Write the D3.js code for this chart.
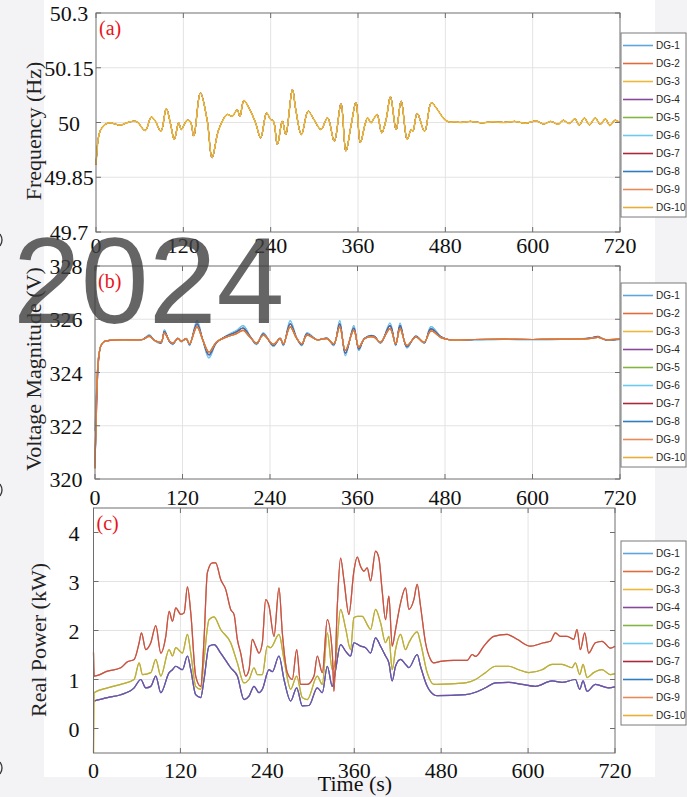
<!DOCTYPE html>
<html><head><meta charset="utf-8">
<script src="https://cdn.jsdelivr.net/npm/d3@7"></script>
<style>html,body{margin:0;padding:0;background:#fff;}svg{display:block;}</style>
</head><body>
<svg id="chart" width="687" height="797"></svg>
<script>
// ---------------- DATA ----------------
const dgNames = ["DG-1","DG-2","DG-3","DG-4","DG-5","DG-6","DG-7","DG-8","DG-9","DG-10"];
const dgColors = ["#5ea6da","#df6c3a","#edb73a","#87479a","#84b443","#6ccaf0","#a8283c","#2f7dbf","#e88a5c","#e9ad3a"];
const timeTicks = [0,120,240,360,480,600,720];
const freqTicks = [49.7,49.85,50,50.15,50.3];
const freqTickLabels = ["49.7","49.85","50","50.15","50.3"];
const voltTicks = [320,322,324,326,328];
const powerTicks = [0,1,2,3,4];

// frequency (Hz): [time s, value] – all DGs share it
const frequency = [[0,49.885],[1.5,49.925],[3,49.955],[6,49.978],[10,49.99],[12.4,49.9945],[19.3,49.999],[33.1,49.993],[46.9,50.002],[56.1,50.002],[67.6,49.978],[75.9,50.015],[81.4,50.004],[89.2,49.976],[96.6,50.038],[102.1,49.999],[107.6,49.954],[113.6,49.999],[117.2,49.981],[125.1,50.006],[129.7,50.002],[134.3,49.963],[143.4,50.081],[152.6,50.008],[159.5,49.904],[168.7,49.981],[180.2,50.022],[187.1,50.017],[194.0,50.035],[197.7,50.017],[203.2,50.06],[210.1,50.04],[219.3,49.999],[226.2,49.958],[234.5,50.026],[240.0,50.008],[243.7,50.004],[249.2,49.94],[256.1,50.004],[260.7,49.967],[269.9,50.09],[274.5,50.035],[282.3,49.967],[291.5,50.031],[298.9,50.01],[309.0,49.981],[318.2,50.013],[327.4,49.949],[336.6,50.051],[343.4,49.922],[350.3,49.99],[357.2,50.055],[363.2,49.945],[369.7,49.995],[373.3,50.013],[377.9,49.999],[382.5,50.013],[386.2,50.022],[392.6,49.972],[398.6,50.008],[404.6,50.07],[412.4,49.981],[419.3,50.058],[427.6,49.954],[433.1,49.981],[435.4,49.976],[441.4,50.025],[451.5,49.976],[460.7,50.054],[467.6,50.04],[479.1,50.008],[486.0,50.001],[492.9,50.002],[500,50.0],[515,50.003],[530,49.999],[545,50.002],[560,50.0],[575,50.003],[590,49.998],[605,50.004],[615,49.996],[625,50.003],[635,49.995],[642,50.006],[650,49.997],[658,50.01],[664,49.993],[671,50.012],[678,49.994],[686,50.012],[693,49.995],[700,50.01],[706,49.992],[713,50.006],[720,50.0]];

// voltage magnitude (V)
const voltTime = [0,1.5,3,5,8,12,18,37.7,65.3,74.5,81.4,90.6,95.2,102.1,106.7,113.6,118.2,125.1,129.7,139.8,148,156.3,166.4,180.2,194,203.2,212.4,221.6,230.8,244.6,253.8,258.4,267.6,276.8,283.7,290.6,304.4,318.2,327.4,335.6,343.4,354.9,361.8,369.7,382.5,391.7,404.6,412.4,418.4,427.6,440,451.5,460.7,474.5,486,520,560,600,640,660,680,690,700,720];
const voltMain = [320.4,322.5,323.8,324.6,325.0,325.15,325.2,325.23,325.24,325.36,325.21,325.14,325.48,325.18,325.11,325.27,325.18,325.26,325.08,325.71,325.21,324.77,325.14,325.33,325.46,325.58,325.33,325.11,325.40,325.06,325.27,325.08,325.71,325.27,325.08,325.40,325.23,325.27,325.08,325.71,324.83,325.58,324.96,325.27,325.33,325.14,325.65,325.08,325.65,325.02,325.33,325.14,325.56,325.31,325.23,325.24,325.25,325.24,325.25,325.26,325.28,325.32,325.24,325.25];
const voltDark = [320.6,322.0,323.5,324.5,325.0,325.15,325.2,325.23,325.24,325.38,325.21,325.12,325.54,325.17,325.08,325.28,325.17,325.27,325.05,325.83,325.21,324.66,325.12,325.36,325.52,325.67,325.36,325.08,325.44,325.02,325.28,325.05,325.83,325.28,325.05,325.44,325.23,325.28,325.05,325.83,324.73,325.67,324.89,325.28,325.36,325.12,325.76,325.05,325.76,324.97,325.36,325.12,325.64,325.33,325.23,325.24,325.25,325.24,325.25,325.26,325.29,325.34,325.23,325.25];
const voltCyan = [321.8,322.9,323.9,324.6,325.0,325.15,325.2,325.23,325.24,325.41,325.2,325.1,325.6,325.15,325.05,325.29,325.15,325.28,325.01,325.95,325.2,324.55,325.1,325.38,325.58,325.76,325.38,325.05,325.49,324.98,325.29,325.01,325.95,325.29,325.01,325.49,325.23,325.29,325.01,325.95,324.63,325.76,324.83,325.29,325.38,325.1,325.86,325.01,325.86,324.92,325.38,325.1,325.72,325.35,325.22,325.22,325.24,325.23,325.24,325.26,325.3,325.36,325.22,325.24];

// real power (kW): [time s, value]
const powerHigh = [[0,1.55],[0.9,1.07],[19.3,1.17],[37.7,1.24],[46.9,1.36],[56.1,1.41],[63.0,1.75],[66.2,1.95],[72.2,1.61],[79.1,1.75],[86.0,2.10],[92.9,1.54],[99.8,1.88],[104.4,2.39],[109.0,2.19],[113.6,2.46],[120.5,2.33],[125.1,2.36],[129.7,2.89],[134.3,2.36],[141.1,1.07],[148.0,0.86],[152.6,1.82],[157.2,3.18],[164.1,3.38],[168.7,3.38],[175.6,3.04],[182.5,2.84],[189.4,2.43],[194.0,2.33],[198.6,1.82],[203.2,1.54],[210.1,1.07],[214.7,1.20],[219.3,1.82],[223.9,1.68],[228.5,1.54],[233.1,1.75],[237.7,2.63],[242.3,2.50],[249.2,1.88],[256.1,2.87],[260.7,1.95],[267.6,1.14],[274.5,1.00],[280.5,1.61],[286.0,0.90],[295.2,0.90],[304.4,1.07],[309.0,1.48],[315.9,1.14],[322.8,2.22],[329.7,1.54],[332.0,0.76],[336.6,2.50],[341.1,3.48],[345.7,3.04],[352.6,2.33],[359.5,3.21],[364.1,3.50],[368.7,3.31],[373.3,3.21],[377.9,3.28],[382.5,3.01],[389.4,3.62],[394.0,3.48],[398.6,2.80],[403.2,2.22],[407.8,2.70],[412.4,1.68],[417.0,2.02],[423.9,2.56],[430.8,2.87],[435.4,2.43],[442.3,2.63],[446.9,2.94],[451.5,2.50],[458.4,1.75],[465.3,1.41],[469.9,1.34],[479.1,1.37],[497.5,1.39],[515.9,1.39],[522.8,1.51],[527.4,1.47],[538.9,1.68],[552.6,1.88],[571,1.92],[584.8,1.82],[603.2,1.68],[621.6,1.75],[630.8,1.78],[637.7,1.95],[644.6,1.88],[653.8,1.88],[663,1.82],[667.6,2.02],[672.2,1.61],[678.2,1.95],[683.7,1.54],[692.9,1.75],[702.1,1.78],[713.6,1.64],[720,1.68]];
const powerMid = [[0,-0.5],[0.6,0.73],[19.3,0.83],[37.7,0.90],[56.1,1.00],[63.0,1.34],[67.6,1.10],[79.1,1.14],[86.0,1.41],[92.9,1.07],[104.4,1.61],[109.0,1.48],[113.6,1.65],[122.8,1.54],[129.7,1.92],[134.3,1.54],[141.1,0.86],[148.0,0.80],[152.6,1.41],[159.5,2.22],[166.4,2.28],[175.6,2.02],[189.4,1.75],[198.6,1.34],[207.8,0.93],[214.7,1.00],[221.6,1.24],[226.2,1.10],[233.1,1.10],[240.0,1.68],[244.6,1.65],[256.1,1.92],[263.0,1.41],[272.2,0.80],[280.5,1.07],[288.3,0.63],[295.2,0.59],[309.0,1.07],[315.9,0.90],[322.8,1.95],[329.7,1.20],[334.3,1.41],[341.1,2.43],[348.0,2.05],[354.9,1.61],[359.5,2.26],[364.1,2.29],[371.0,2.29],[377.9,2.12],[382.5,2.02],[389.4,2.43],[396.3,2.16],[403.2,1.75],[407.8,1.88],[412.4,1.20],[417.0,1.61],[423.9,1.92],[430.8,1.61],[435.4,1.75],[446.9,1.97],[451.5,1.75],[460.7,1.14],[469.9,0.90],[474.5,0.90],[513.6,0.93],[527.4,1.00],[541.1,1.14],[555,1.27],[573.3,1.27],[587.1,1.20],[601,1.14],[619.3,1.20],[633.1,1.31],[646.9,1.31],[660.7,1.24],[665.3,1.34],[671.3,1.10],[675.9,1.31],[681.4,1.04],[690.6,1.14],[702.1,1.20],[713.6,1.10],[720,1.12]];
const powerLow = [[0,0.56],[19.3,0.63],[37.7,0.69],[56.1,0.83],[65.3,1.00],[72.2,0.83],[79.1,0.86],[86.0,1.07],[92.9,0.73],[104.4,1.14],[109.0,1.20],[113.6,1.27],[122.8,1.20],[129.7,1.48],[134.3,1.20],[141.1,0.69],[148.0,0.63],[152.6,1.00],[159.5,1.68],[166.4,1.71],[175.6,1.54],[189.4,1.24],[198.6,1.07],[207.8,0.59],[214.7,0.66],[221.6,0.86],[228.5,0.73],[233.1,0.80],[242.3,1.20],[246.9,1.16],[256.1,1.48],[263.0,1.00],[272.2,0.56],[280.5,0.83],[288.3,0.46],[297.5,0.47],[309.0,0.83],[315.9,0.73],[322.8,1.27],[329.7,0.86],[334.3,1.20],[341.1,1.71],[348.0,1.58],[354.9,1.48],[359.5,1.75],[368.7,1.68],[375.6,1.65],[382.5,1.54],[389.4,1.85],[396.3,1.68],[403.2,1.48],[407.8,1.34],[412.4,0.97],[417.0,1.27],[423.9,1.41],[430.8,1.31],[435.4,1.24],[446.9,1.51],[451.5,1.27],[460.7,0.86],[469.9,0.69],[474.5,0.67],[513.6,0.69],[527.4,0.74],[541.1,0.83],[555,0.93],[573.3,0.94],[591.7,0.90],[610,0.86],[633.1,0.97],[646.9,0.94],[665.3,1.00],[671.3,0.80],[675.9,0.97],[681.4,0.76],[693,0.90],[711,0.83],[720,0.85]];

// which series each DG follows
const voltGroupOfDG = ["cyan","main","main","dark","main","cyan","dark","dark","main","main"];
const powerGroupOfDG = ["low","high","mid","low","mid","low","high","low","high","mid"];

// ---------------- DRAW ----------------
const svg = d3.select("#chart");
const W = 687, H = 797;
const serif = "'Liberation Serif','Times New Roman',serif";
const sans = "'Liberation Sans',Arial,sans-serif";

// drawing order (last = on top) per panel
const orderFreq = [0,1,3,4,5,6,7,8,9,2];
const orderVolt = [0,5,3,6,7,2,4,9,8,1];
const orderPower = [0,5,7,3,2,9,4,1,8,6];
const powerOpacity = [0.8,0.9,0.9,0.95,0.55,0.8,0.55,0.8,0.8,0.9];

// page background (scanned-look margins)
svg.append("rect").attr("width", W).attr("height", H).attr("fill", "#f3f3f5");
svg.append("rect").attr("x", 44).attr("y", 0).attr("width", 611).attr("height", 777).attr("fill", "#ffffff");

const panels = [
  { key: "a", x0: 96, x1: 620, y0: 13, y1: 232, domain: [49.7, 50.3], ticks: freqTicks,
    tickFmt: (d, i) => freqTickLabels[i], ylabX: 69, titleX: 41, titleY: 131, title: "Frequency  (Hz)",
    xlabBase: 253, legendTop: 33 },
  { key: "b", x0: 95, x1: 620, y0: 266, y1: 479, domain: [320, 328], ticks: voltTicks,
    tickFmt: d => String(d), ylabX: 66, titleX: 41, titleY: 369, title: "Voltage Magnitude  (V)",
    xlabBase: 505, legendTop: 283 },
  { key: "c", x0: 93.5, x1: 615, y0: 508, y1: 753, domain: [-0.5, 4.5], ticks: powerTicks,
    tickFmt: d => String(d), ylabX: 74, titleX: 46, titleY: 640, title: "Real Power  (kW)",
    xlabBase: 778, legendTop: 541 }
];

panels.forEach(p => {
  p.x = d3.scaleLinear().domain([0, 720]).range([p.x0, p.x1]);
  p.y = d3.scaleLinear().domain(p.domain).range([p.y1, p.y0]);
  const g = svg.append("g");
  p.g = g;
  g.append("rect").attr("x", p.x0).attr("y", p.y0).attr("width", p.x1 - p.x0).attr("height", p.y1 - p.y0).attr("fill", "#fff");
  g.selectAll(".gx").data(timeTicks.slice(1, -1)).join("line")
    .attr("x1", d => p.x(d)).attr("x2", d => p.x(d)).attr("y1", p.y0).attr("y2", p.y1)
    .attr("stroke", "#e3e3e3").attr("stroke-width", 1);
  g.selectAll(".gy").data(p.ticks.slice(1, -1)).join("line")
    .attr("x1", p.x0).attr("x2", p.x1).attr("y1", d => p.y(d)).attr("y2", d => p.y(d))
    .attr("stroke", "#e3e3e3").attr("stroke-width", 1);
  p.lineLayer = g.append("g");
  g.append("rect").attr("x", p.x0).attr("y", p.y0).attr("width", p.x1 - p.x0).attr("height", p.y1 - p.y0)
    .attr("fill", "none").attr("stroke", "#6e6e6e").attr("stroke-width", 1);
  const tl = 5;
  timeTicks.forEach(t => {
    g.append("line").attr("x1", p.x(t)).attr("x2", p.x(t)).attr("y1", p.y1).attr("y2", p.y1 - tl).attr("stroke", "#6e6e6e");
    g.append("line").attr("x1", p.x(t)).attr("x2", p.x(t)).attr("y1", p.y0).attr("y2", p.y0 + tl).attr("stroke", "#6e6e6e");
  });
  p.ticks.forEach(v => {
    g.append("line").attr("x1", p.x0).attr("x2", p.x0 + tl).attr("y1", p.y(v)).attr("y2", p.y(v)).attr("stroke", "#6e6e6e");
    g.append("line").attr("x1", p.x1).attr("x2", p.x1 - tl).attr("y1", p.y(v)).attr("y2", p.y(v)).attr("stroke", "#6e6e6e");
  });
  g.selectAll(".xl").data(timeTicks).join("text")
    .attr("x", d => p.x(d)).attr("y", p.xlabBase).attr("text-anchor", "middle")
    .attr("font-family", serif).attr("font-size", 22).attr("fill", "#111").text(d => d);
  g.selectAll(".yl").data(p.ticks).join("text")
    .attr("x", p.ylabX).attr("y", d => p.y(d) + 8).attr("text-anchor", "middle")
    .attr("font-family", serif).attr("font-size", 22).attr("fill", "#111").text(p.tickFmt);
  g.append("text").attr("transform", `translate(${p.titleX},${p.titleY}) rotate(-90)`)
    .attr("text-anchor", "middle").attr("font-family", serif).attr("font-size", 22).attr("fill", "#222")
    .text(p.title);
  g.append("text").attr("x", p.x0 + 3).attr("y", p.y0 + 22).attr("font-family", serif).attr("font-size", 20)
    .attr("fill", "#e8141a").text(`(${p.key})`);
});

const [pa, pb, pc] = panels;
const smooth = d3.curveCatmullRom.alpha(0.5);
orderFreq.forEach(i => {
  const lineA = d3.line().x(d => pa.x(d[0])).y(d => pa.y(d[1])).curve(smooth);
  pa.lineLayer.append("path").datum(frequency).attr("d", lineA)
    .attr("fill", "none").attr("stroke", dgColors[i]).attr("stroke-width", i === 2 ? 1.5 : 1.0);
});
const voltSeries = { main: voltMain, dark: voltDark, cyan: voltCyan };
orderVolt.forEach(i => {
  const vals = voltSeries[voltGroupOfDG[i]];
  const data = voltTime.map((t, k) => [t, vals[k]]);
  const lineB = d3.line().x(d => pb.x(d[0])).y(d => pb.y(d[1])).curve(smooth);
  pb.lineLayer.append("path").datum(data).attr("d", lineB)
    .attr("fill", "none").attr("stroke", dgColors[i]).attr("stroke-width", 1.2).attr("stroke-opacity", 0.9);
});
const powerSeries = { high: powerHigh, mid: powerMid, low: powerLow };
orderPower.forEach(i => {
  const data = powerSeries[powerGroupOfDG[i]];
  const lineC = d3.line().x(d => pc.x(d[0])).y(d => pc.y(d[1])).curve(d3.curveMonotoneX);
  pc.lineLayer.append("path").datum(data).attr("d", lineC)
    .attr("fill", "none").attr("stroke", dgColors[i]).attr("stroke-width", 1.2).attr("stroke-opacity", powerOpacity[i]);
});

// legends
panels.forEach(p => {
  const lg = svg.append("g").attr("transform", `translate(621,${p.legendTop})`);
  lg.append("rect").attr("x", 0).attr("y", 0).attr("width", 65).attr("height", 184)
    .attr("fill", "#fff").attr("stroke", "#7a7a7a").attr("stroke-width", 1);
  dgNames.forEach((name, i) => {
    const yy = 12.5 + i * 18;
    lg.append("line").attr("x1", 2).attr("x2", 32).attr("y1", yy).attr("y2", yy)
      .attr("stroke", dgColors[i]).attr("stroke-width", 1.6);
    lg.append("text").attr("x", 35).attr("y", yy + 3.5).attr("font-family", sans).attr("font-size", 10)
      .attr("fill", "#262626").text(name);
  });
});

svg.append("text").attr("x", 355).attr("y", 791).attr("text-anchor", "middle")
  .attr("font-family", serif).attr("font-size", 22).attr("fill", "#111").text("Time (s)");

// watermark
svg.append("text").attr("x", 13).attr("y", 323).attr("font-family", sans).attr("font-size", 122)
  .attr("fill", "#3f3f3f").attr("fill-opacity", 0.8).text("2024");

// edge fragments at left margin
[240, 490, 768].forEach(yv => svg.append("path")
  .attr("d", `M0,${yv - 6} Q4,${yv} 0,${yv + 6}`).attr("fill", "none").attr("stroke", "#333").attr("stroke-width", 1.3));
</script>
</body></html>
